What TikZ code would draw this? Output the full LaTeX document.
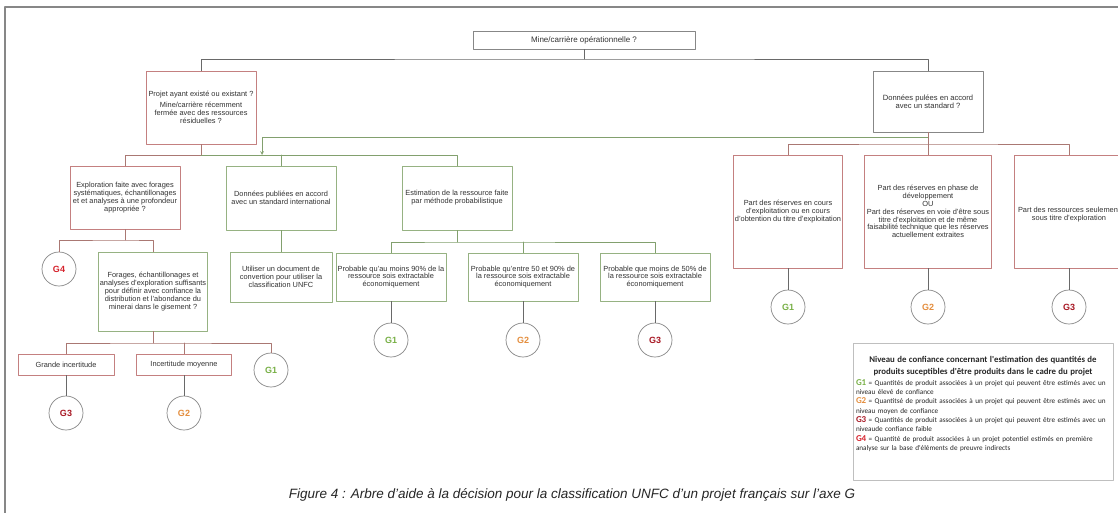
\documentclass[tikz,border=0pt]{standalone}
\usepackage{fontspec}
\setmainfont{Liberation Sans}
\newfontfamily\legfont{Carlito}
\definecolor{bred}{RGB}{196,128,128}
\definecolor{bgreen}{RGB}{150,178,130}
\definecolor{bgray}{RGB}{135,135,135}
\definecolor{lred}{RGB}{170,120,115}
\definecolor{lgreen}{RGB}{130,160,110}
\definecolor{lgray}{RGB}{105,105,105}
\definecolor{txt}{RGB}{50,50,50}
\definecolor{gone}{RGB}{120,176,70}
\definecolor{gtwo}{RGB}{228,142,62}
\definecolor{gthree}{RGB}{168,24,36}
\definecolor{gfour}{RGB}{214,34,44}
\begin{document}
\begin{tikzpicture}[x=1pt, y=-1pt, line join=round, line cap=round, >=stealth,
	tbox/.style={draw, line width=0.7pt, inner sep=1pt, align=center, text=txt, font=\fontsize{7.4}{7.9}\selectfont},
	redbox/.style={tbox, draw=bred},
	greenbox/.style={tbox, draw=bgreen},
	graybox/.style={tbox, draw=bgray},
	gcirc/.style={circle, draw=bgray, line width=0.7pt, minimum size=34, inner sep=0pt, font=\bfseries\fontsize{9}{9}\selectfont},
	conn/.style={draw=lgray, line width=0.7pt},
	connr/.style={draw=lred, line width=0.7pt},
	conng/.style={draw=lgreen, line width=0.7pt},
	legtext/.style={text width=254, align=left, inner sep=0pt, font=\legfont\fontsize{7.2}{9.3}\selectfont, text=black!85},
	figcap/.style={font=\itshape\fontsize{13.5}{13.5}\selectfont, text=black!85}]
	\fill[white] (0,0) rectangle (1118,512);
	\useasboundingbox (0,0) rectangle (1118,512);
	\clip (0,0) rectangle (1118,512);
	\draw[bgray, line width=1.5pt] (5,7) rectangle (1140,530);
	\node[graybox, minimum width=222, minimum height=18, font=\fontsize{8}{9}\selectfont] (mine) at (584,40) {Mine/carrière opérationnelle ?};
	\node[redbox, minimum width=110, minimum height=73] (projet) at (201,107.5) {Projet ayant existé ou existant ?\\[3pt] Mine/carrière récemment\\ fermée avec des ressources\\ résiduelles ?};
	\node[graybox, minimum width=110, minimum height=61, font=\fontsize{7.6}{8.5}\selectfont] (donnees) at (928,101.5) {Données pulées en accord\\ avec un standard ?};
	\node[redbox, minimum width=110, minimum height=63] (explo) at (125,197.5) {Exploration faite avec forages\\ systématiques, échantillonages\\ et et analyses à une profondeur\\ appropriée ?};
	\node[greenbox, minimum width=110, minimum height=64] (pubintl) at (281,198) {Données publiées en accord\\ avec un standard international};
	\node[greenbox, minimum width=110, minimum height=64] (estim) at (457,198) {Estimation de la ressource faite\\ par méthode probabilistique};
	\node[gcirc, text=gfour] (gexplo) at (59,269) {G4};
	\node[greenbox, minimum width=109, minimum height=79] (forages) at (153,291.5) {Forages, échantillonages et\\ analyses d'exploration suffisants\\ pour définir avec confiance la\\ distribution et l'abondance du\\ minerai dans le gisement ?};
	\node[greenbox, minimum width=102, minimum height=50] (convert) at (281,277) {Utiliser un document de\\ convertion pour utiliser la\\ classification UNFC};
	\node[greenbox, minimum width=110, minimum height=48] (proba1) at (391,277) {Probable qu'au moins 90\% de la\\ ressource sois extractable\\ économiquement};
	\node[greenbox, minimum width=110, minimum height=48] (proba2) at (523,277) {Probable qu'entre 50 et 90\% de\\ la ressource sois extractable\\ économiquement};
	\node[greenbox, minimum width=110, minimum height=48] (proba3) at (655,277) {Probable que moins de 50\% de\\ la ressource sois extractable\\ économiquement};
	\node[gcirc, text=gone] (gproba1) at (391,340) {G1};
	\node[gcirc, text=gtwo] (gproba2) at (523,340) {G2};
	\node[gcirc, text=gthree] (gproba3) at (655,340) {G3};
	\node[redbox, minimum width=96, minimum height=21] (grande) at (66,364.5) {Grande incertitude};
	\node[redbox, minimum width=95, minimum height=21] (moyenne) at (184,364.5) {Incertitude moyenne};
	\node[gcirc, text=gone] (gforage) at (271,370) {G1};
	\node[gcirc, text=gthree] (ggrande) at (66,413) {G3};
	\node[gcirc, text=gtwo] (gmoyenne) at (184,413) {G2};
	\node[redbox, minimum width=109, minimum height=113] (part1) at (788,211.5) {Part des réserves en cours\\ d'exploitation ou en cours\\ d'obtention du titre d'exploitation};
	\node[redbox, minimum width=127, minimum height=113] (part2) at (928,211.5) {Part des réserves en phase de\\ développement\\ OU\\ Part des réserves en voie d'être sous\\ titre d'exploitation et de même\\ faisabilité technique que les réserves\\ actuellement extraites};
	\node[redbox, minimum width=109, minimum height=113] (part3) at (1069,211.5) {\\[4pt]Part des ressources seulement\\ sous titre d'exploration};
	\node[gcirc, text=gone] (gpart1) at (788,307) {G1};
	\node[gcirc, text=gtwo] (gpart2) at (928,307) {G2};
	\node[gcirc, text=gthree] (gpart3) at (1069,307) {G3};
	\node[draw=black!25, line width=0.7pt, minimum width=260, minimum height=137, inner sep=0pt] (legende) at (983,411.5) {};
	\node[legtext, anchor=north] (legtxt) at ([yshift=-13pt]legende.north) {{\centering\bfseries\fontsize{8.8}{12}\selectfont Niveau de confiance concernant l'estimation des quantités de\\ produits suceptibles d'être produits dans le cadre du projet\par}\vspace{2pt}
		{\bfseries\fontsize{9}{9.3}\selectfont\color{gone}G1} = Quantités de produit associées à un projet qui peuvent être estimés avec un\\ niveau élevé de confiance\\
		{\bfseries\fontsize{9}{9.3}\selectfont\color{gtwo}G2} = Quantitsé de produit associées à un projet qui peuvent être estimés avec un\\ niveau moyen de confiance\\
		{\bfseries\fontsize{9}{9.3}\selectfont\color{gthree}G3} = Quantités de produit associées à un projet qui peuvent être estimés avec un\\ niveaude confiance faible\\
		{\bfseries\fontsize{9}{9.3}\selectfont\color{gfour}G4} = Quantité de produit associées à un projet potentiel estimés en première\\ analyse sur la base d'éléments de preuvre indirects};
	\node[figcap] (titre) at (572,495) {Figure 4 : Arbre d’aide à la décision pour la classification UNFC d’un projet français sur l’axe G};
	\coordinate (j0) at (584,59);
	\coordinate (j1) at (928,144);
	\coordinate (j2) at (928,137);
	\coordinate (j3) at (262,155);
	\coordinate (j4) at (201,155);
	\coordinate (j5) at (125,240);
	\coordinate (j6) at (457,242);
	\coordinate (j7) at (153,343);
	\draw[conn] (mine) -- (j0);
	\draw[conn] (projet) |- (j0) -| (donnees);
	\draw[connr] (donnees) -- (j1);
	\draw[connr] (part1) |- (j1) -| (part3);
	\draw[connr] (j1) -- (part2);
	\draw[conng, ->] (j2) -| (j3);
	\draw[connr] (projet) -- (j4);
	\draw[connr] (explo) |- (j4);
	\draw[conng] (j4) -| (estim);
	\draw[conng] (j4 -| pubintl) -- (pubintl);
	\draw[conng] (pubintl) -- (convert);
	\draw[connr] (explo) -- (j5);
	\draw[connr] (gexplo) |- (j5) -| (forages);
	\draw[conng] (estim) -- (j6);
	\draw[conng] (proba1) |- (j6) -| (proba3);
	\draw[conng] (j6 -| proba2) -- (proba2);
	\draw[connr] (forages) -- (j7);
	\draw[connr] (grande) |- (j7) -| (gforage);
	\draw[connr] (j7 -| moyenne) -- (moyenne);
	\draw[conn] (proba1) -- (gproba1);
	\draw[conn] (proba2) -- (gproba2);
	\draw[conn] (proba3) -- (gproba3);
	\draw[conn] (grande) -- (ggrande);
	\draw[conn] (moyenne) -- (gmoyenne);
	\draw[conn] (part1) -- (gpart1);
	\draw[conn] (part2) -- (gpart2);
	\draw[conn] (part3) -- (gpart3);
\end{tikzpicture}
\end{document}
